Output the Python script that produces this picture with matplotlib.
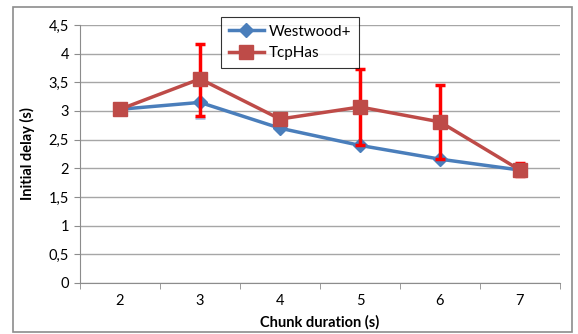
import matplotlib.pyplot as plt
from matplotlib.patches import Rectangle

# Data
chunk = [2, 3, 4, 5, 6, 7]
westwood = [3.03, 3.15, 2.70, 2.40, 2.16, 1.97]
tcphas = [3.03, 3.56, 2.86, 3.07, 2.81, 1.97]
# error bars (lower, upper) for TcpHas
tcphas_lo = [3.03, 2.91, 2.86, 2.40, 2.16, 1.87]
tcphas_hi = [3.03, 4.17, 2.86, 3.73, 3.45, 2.09]
# error bars for Westwood+
west_lo = [2.97, 2.88, 2.70, 2.40, 2.16, 1.97]
west_hi = [3.12, 3.48, 2.70, 2.40, 2.16, 1.97]
yticks = [0, 0.5, 1, 1.5, 2, 2.5, 3, 3.5, 4, 4.5]
ytick_labels = ['0', '0,5', '1', '1,5', '2', '2,5', '3', '3,5', '4', '4,5']

plt.rcParams['font.family'] = ['Lato', 'DejaVu Sans']

fig = plt.figure(figsize=(5.78, 3.34), dpi=100)
# outer chart border
fig.patches.append(Rectangle((13 / 578, 2 / 334), 559 / 578, 325 / 334,
                             transform=fig.transFigure, fill=False,
                             edgecolor='#8c8c8c', lw=1.2))
ax = fig.add_axes([80 / 578, 51 / 334, 480 / 578, 258 / 334])

# error bars
ax.errorbar(chunk, westwood,
            yerr=[[w - l for w, l in zip(westwood, west_lo)],
                  [h - w for w, h in zip(westwood, west_hi)]],
            fmt='none', ecolor='#a7c4e8', elinewidth=2, capsize=3.5, capthick=2, zorder=2)
ax.errorbar(chunk, tcphas,
            yerr=[[t - l for t, l in zip(tcphas, tcphas_lo)],
                  [h - t for t, h in zip(tcphas, tcphas_hi)]],
            fmt='none', ecolor='#ff0000', elinewidth=2.5, capsize=3.5, capthick=2.5, zorder=4)

ax.plot(chunk, westwood, color='#4a7ebb', lw=2.5, marker='D', markersize=7,
        label='Westwood+', zorder=3)
ax.plot(chunk, tcphas, color='#be4b48', lw=2.5, marker='s', markersize=10,
        label='TcpHas', zorder=5)

ax.set_xlim(1.5, 7.5)
ax.set_ylim(0, 4.5)
ax.set_yticks(yticks)
ax.set_yticklabels(ytick_labels)
ax.set_xticks(chunk)
ax.set_xticks([1.5, 2.5, 3.5, 4.5, 5.5, 6.5, 7.5], minor=True)
ax.tick_params(axis='x', which='major', length=0, pad=8, labelsize=10.5)
ax.tick_params(axis='x', which='minor', length=4, color='#8c8c8c')
ax.tick_params(axis='y', length=4, color='#8c8c8c', labelsize=10.5, pad=4)
ax.yaxis.grid(True, color='#a6a6a6', lw=1)
ax.set_axisbelow(True)
for s in ['top', 'right']:
    ax.spines[s].set_visible(False)
for s in ['left', 'bottom']:
    ax.spines[s].set_color('#8c8c8c')

ax.set_xlabel('Chunk duration (s)', fontweight='bold', fontsize=10.5, labelpad=5)
ax.set_ylabel('Initial delay (s)', fontweight='bold', fontsize=10.5, labelpad=10)

leg = ax.legend(loc='upper left', bbox_to_anchor=(0.278, 1.06), fancybox=False,
                edgecolor='#000000', fontsize=11, handlelength=2.3,
                borderpad=0.5, labelspacing=0.5, handletextpad=0.3)
leg.get_frame().set_linewidth(0.8)

plt.savefig('out.png', dpi=100)
